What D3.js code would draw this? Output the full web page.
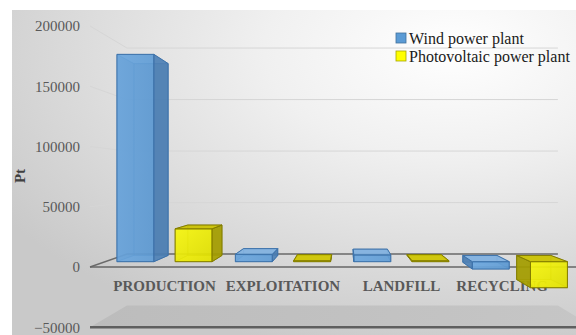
<!DOCTYPE html>
<html>
<head>
<meta charset="utf-8">
<script src="https://cdn.jsdelivr.net/npm/d3@7"></script>
<style>
  html, body { margin: 0; padding: 0; background: #ffffff; }
  svg { display: block; }
  text { font-family: "Liberation Serif", "Times New Roman", serif; }
</style>
</head>
<body>
<div id="chart"></div>
<script>
// Life-cycle impact (Pt) by stage for two kinds of power plant
const categories = ["PRODUCTION", "EXPLOITATION", "LANDFILL", "RECYCLING"];
const seriesNames = ["Wind power plant", "Photovoltaic power plant"];
const windValues = [183000, 6500, 6000, -6500];
const pvValues = [29000, 800, 800, -23000];
const yTicks = [-50000, 0, 50000, 100000, 150000, 200000];
const yTitle = "Pt";

const SERIF = "'Liberation Serif', 'Times New Roman', serif";
const W = 576, H = 335;
const svg = d3.select("#chart").append("svg").attr("width", W).attr("height", H)
  .attr("font-family", SERIF);
const defs = svg.append("defs");

// chart area background: soft radial gradient
const bg = defs.append("radialGradient").attr("id", "bg")
  .attr("cx", "0.78").attr("cy", "0.12").attr("r", "0.95");
bg.append("stop").attr("offset", "0").attr("stop-color", "#ffffff");
bg.append("stop").attr("offset", "0.35").attr("stop-color", "#f0f0f0");
bg.append("stop").attr("offset", "1").attr("stop-color", "#c9c9c9");

const floorGrad = defs.append("linearGradient").attr("id", "floor")
  .attr("x1", "0").attr("y1", "0").attr("x2", "1").attr("y2", "0");
floorGrad.append("stop").attr("offset", "0").attr("stop-color", "#bcbcbc");
floorGrad.append("stop").attr("offset", "1").attr("stop-color", "#c6c6c6");

const pvFront = defs.append("linearGradient").attr("id", "pvFront")
  .attr("x1", "0").attr("y1", "0").attr("x2", "1").attr("y2", "1");
pvFront.append("stop").attr("offset", "0").attr("stop-color", "#ffff10");
pvFront.append("stop").attr("offset", "1").attr("stop-color", "#e4e400");

const windFront = defs.append("linearGradient").attr("id", "windFront")
  .attr("x1", "0").attr("y1", "0").attr("x2", "1").attr("y2", "0");
windFront.append("stop").attr("offset", "0").attr("stop-color", "#6aa6de");
windFront.append("stop").attr("offset", "1").attr("stop-color", "#5e9bd4");

svg.append("rect").attr("x", 12).attr("y", 10).attr("width", W - 12).attr("height", H - 10)
  .attr("fill", "url(#bg)");

// perspective: depth factor s (1 = front plane), vanishing point vp
const vp = { x: 345, y: 178 };
const sWallFront = 1, sWallBack = 0.855, sBarFront = 0.94, sBarBack = 0.87;

const x = d3.scaleBand().domain(categories).range([90, 594]);
const xs = d3.scaleBand().domain(seriesNames).range([0, x.bandwidth()])
  .paddingInner(0.365).paddingOuter(0.2);
const y = d3.scaleLinear().domain([-50000, 200000]).range([327.25, 26]);

function P(X, V, s) {
  return [vp.x + (X - vp.x) * s, vp.y + (y(V) - vp.y) * s];
}
const line = d3.line();
const X0 = x.range()[0], X1 = x.range()[1];
const vMin = y.domain()[0];

const g = svg.append("g");

// floor
g.append("path")
  .attr("d", line([P(X0, vMin, sWallFront), P(X0, vMin, sWallBack), P(X1, vMin, sWallBack), P(X1, vMin, sWallFront)]) + "Z")
  .attr("fill", "url(#floor)");
g.append("path")
  .attr("d", line([P(X0, vMin, sWallFront), P(X1, vMin, sWallFront)]))
  .attr("stroke", "#5f5f5f").attr("stroke-width", 2.5).attr("fill", "none");

// gridlines on side and back walls
yTicks.filter(v => v > vMin).forEach(v => {
  g.append("path")
    .attr("d", line([P(X0, v, sWallFront), P(X0, v, sWallBack), P(X1, v, sWallBack)]))
    .attr("fill", "none")
    .attr("stroke", v === 0 ? "#6a6a6a" : "#d6d6d6")
    .attr("stroke-width", v === 0 ? 1.5 : 1);
});
// horizontal axis line at zero on the front plane
g.append("path")
  .attr("d", line([P(X0, 0, sWallFront), P(X1, 0, sWallFront)]))
  .attr("stroke", "#666666").attr("stroke-width", 1.6).attr("fill", "none");

// value axis on the front edge of the side wall
const yAxis = svg.append("g").attr("transform", `translate(${X0 - 2},0)`)
  .call(d3.axisLeft(y).tickValues(yTicks).tickSize(0).tickPadding(8).tickFormat(d3.format("d")))
  .attr("font-family", SERIF).attr("font-size", 15);
yAxis.select(".domain").remove();
yAxis.selectAll("text").attr("fill", "#595959");

svg.append("text")
  .attr("transform", `translate(25,176) rotate(-90)`)
  .attr("text-anchor", "middle").attr("font-size", 15).attr("font-weight", "bold")
  .attr("fill", "#404040").text(yTitle);

// category labels
const labelRight = 548;
categories.forEach(c => {
  const cx = P(x(c) + x.bandwidth() / 2, 0, sBarFront)[0];
  const t = svg.append("text").attr("y", 291).attr("font-size", 15).attr("font-weight", "bold")
    .attr("fill", "#595959").attr("text-anchor", "middle").text(c);
  const w = t.node().getComputedTextLength();
  t.attr("x", Math.min(cx, labelRight - w / 2));
});

// 3D columns
const styles = {
  "Wind power plant": { front: "url(#windFront)", side: "#4a7db2", top: "#86b6e4", stroke: "#3d72aa" },
  "Photovoltaic power plant": { front: "url(#pvFront)", side: "#a39c00", top: "#cfc500", stroke: "#837d00" }
};

const bars = [];
categories.forEach((c, i) => {
  bars.push({ cat: c, series: seriesNames[0], value: windValues[i] });
  bars.push({ cat: c, series: seriesNames[1], value: pvValues[i] });
});

const barG = svg.append("g");
bars.forEach(b => {
  const xa = x(b.cat) + xs(b.series), xb = xa + xs.bandwidth();
  const va = Math.min(0, b.value), vb = Math.max(0, b.value);
  const st = styles[b.series];
  const F = (X, V) => P(X, V, sBarFront), B = (X, V) => P(X, V, sBarBack);
  const faces = {
    front: { pts: [F(xa, va), F(xb, va), F(xb, vb), F(xa, vb)], fill: st.front, vis: true },
    back: { pts: [B(xa, va), B(xb, va), B(xb, vb), B(xa, vb)], fill: st.side, vis: false },
    left: { pts: [F(xa, va), B(xa, va), B(xa, vb), F(xa, vb)], fill: st.side, vis: xa > vp.x },
    right: { pts: [F(xb, va), B(xb, va), B(xb, vb), F(xb, vb)], fill: st.side, vis: xb < vp.x },
    top: { pts: [F(xa, vb), F(xb, vb), B(xb, vb), B(xa, vb)], fill: st.top, vis: y(vb) > vp.y },
    bottom: { pts: [F(xa, va), F(xb, va), B(xb, va), B(xa, va)], fill: st.top, vis: y(va) < vp.y }
  };
  const bg = barG.append("g");
  const hidden = Object.values(faces).filter(f => !f.vis);
  const shown = Object.values(faces).filter(f => f.vis);
  hidden.forEach(f => bg.append("path").attr("d", line(f.pts) + "Z")
    .attr("fill", f.fill).attr("fill-opacity", 0.55)
    .attr("stroke", st.stroke).attr("stroke-opacity", 0.5).attr("stroke-width", 0.8));
  shown.forEach(f => bg.append("path").attr("d", line(f.pts) + "Z")
    .attr("fill", f.fill).attr("fill-opacity", 0.85)
    .attr("stroke", st.stroke).attr("stroke-width", 1).attr("stroke-linejoin", "round"));
});

// legend
const legend = svg.append("g");
const legendColors = ["#5b9bd5", "#ffff00"];
const legendStroke = ["#41719c", "#a6a600"];
seriesNames.forEach((s, i) => {
  legend.append("rect").attr("x", 396).attr("y", 33 + i * 18).attr("width", 10).attr("height", 10)
    .attr("fill", legendColors[i]).attr("stroke", legendStroke[i]).attr("stroke-width", 0.8);
  legend.append("text").attr("x", 409).attr("y", 43.5 + i * 18).attr("font-size", 16)
    .attr("fill", "#1a1a1a").text(s);
});
</script>
</body>
</html>
